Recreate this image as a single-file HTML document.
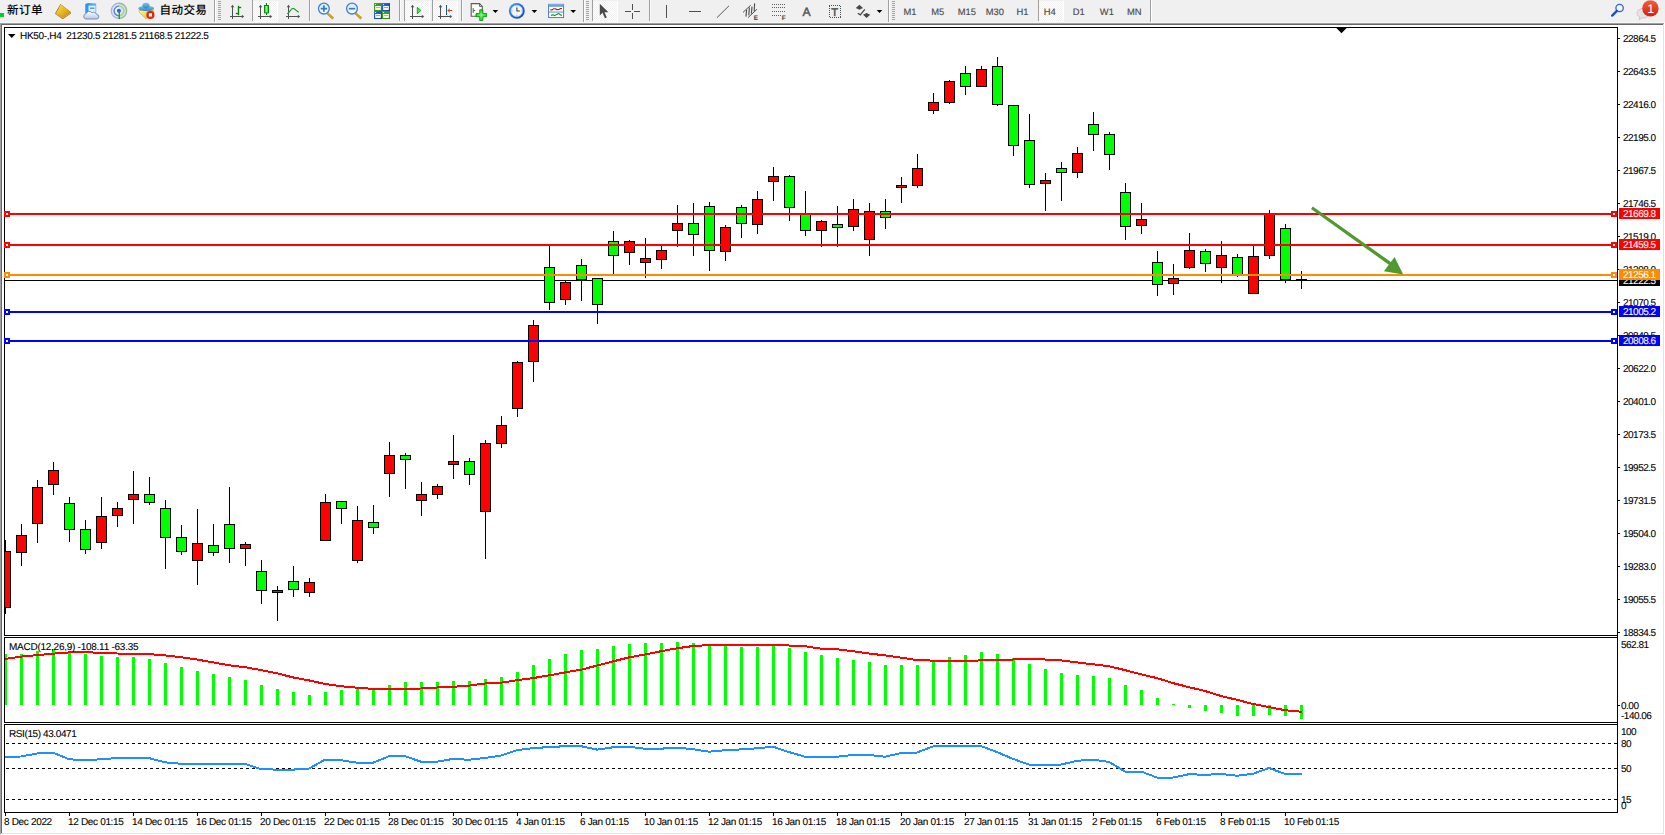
<!DOCTYPE html>
<html lang="zh-CN"><head><meta charset="utf-8"><title>HK50-,H4</title>
<style>
html,body{margin:0;padding:0;background:#fff;overflow:hidden}
body{width:1665px;height:835px;position:relative}
svg{position:absolute;left:0;top:0;display:block}
svg text{font-family:"Liberation Sans","Noto Sans CJK SC",sans-serif;white-space:pre}
svg text{text-rendering:geometricPrecision}
.ct text{stroke-width:0.1px;paint-order:stroke fill}
.cjk{font-family:"Liberation Sans","Noto Sans CJK SC",sans-serif}
</style></head><body>
<svg width="1665" height="835" viewBox="0 0 1665 835">
<g shape-rendering="crispEdges">
<rect x="0" y="0" width="1665" height="835" fill="#ffffff"/>
<rect x="0" y="0" width="1665" height="22" fill="#f0f0f0"/>
<rect x="0" y="22" width="1665" height="1" fill="#f7f7f7"/>
<rect x="0" y="23" width="1665" height="1" fill="#a0a0a0"/>
<rect x="1" y="24" width="1665" height="1" fill="#696969"/>
<rect x="0" y="23" width="1" height="811" fill="#a0a0a0"/>
<rect x="1" y="24" width="1" height="809" fill="#696969"/>
<rect x="1663" y="24" width="1" height="810" fill="#e3e3e3"/>
<rect x="1664" y="23" width="1" height="812" fill="#ffffff"/>
<rect x="1" y="833" width="1663" height="1" fill="#e3e3e3"/>
<rect x="0" y="834" width="1665" height="1" fill="#ffffff"/>
<rect x="4" y="27" width="1614" height="1" fill="#000000"/>
<rect x="4" y="27" width="1" height="786" fill="#000000"/>
<rect x="1617" y="27" width="1" height="786" fill="#000000"/>
<rect x="4" y="635" width="1614" height="1" fill="#000000"/>
<rect x="4" y="636" width="1" height="1" fill="#fff"/>
<rect x="4" y="637" width="1614" height="1" fill="#000000"/>
<rect x="4" y="722" width="1614" height="1" fill="#000000"/>
<rect x="4" y="723" width="1" height="1" fill="#fff"/>
<rect x="4" y="724" width="1614" height="1" fill="#000000"/>
<rect x="4" y="812" width="1614" height="1" fill="#000000"/>
</g>
<defs><clipPath id="cm"><rect x="5" y="28" width="1612" height="607"/></clipPath><clipPath id="c2"><rect x="5" y="638" width="1612" height="84"/></clipPath><clipPath id="c3"><rect x="5" y="725" width="1612" height="87"/></clipPath></defs>
<g shape-rendering="crispEdges" clip-path="url(#cm)">
<rect x="5" y="280" width="1612" height="1" fill="#000000"/>
<rect x="5" y="540" width="1" height="74" fill="#000000"/>
<rect x="0" y="551" width="11" height="57" fill="#000000"/>
<rect x="1" y="552" width="9" height="55" fill="#ff0000"/>
<rect x="21" y="524" width="1" height="42" fill="#000000"/>
<rect x="16" y="535" width="11" height="18" fill="#000000"/>
<rect x="17" y="536" width="9" height="16" fill="#ff0000"/>
<rect x="37" y="480" width="1" height="63" fill="#000000"/>
<rect x="32" y="487" width="11" height="37" fill="#000000"/>
<rect x="33" y="488" width="9" height="35" fill="#ff0000"/>
<rect x="53" y="462" width="1" height="33" fill="#000000"/>
<rect x="48" y="470" width="11" height="15" fill="#000000"/>
<rect x="49" y="471" width="9" height="13" fill="#ff0000"/>
<rect x="69" y="497" width="1" height="45" fill="#000000"/>
<rect x="64" y="503" width="11" height="27" fill="#000000"/>
<rect x="65" y="504" width="9" height="25" fill="#00ff00"/>
<rect x="85" y="520" width="1" height="34" fill="#000000"/>
<rect x="80" y="529" width="11" height="21" fill="#000000"/>
<rect x="81" y="530" width="9" height="19" fill="#00ff00"/>
<rect x="101" y="497" width="1" height="52" fill="#000000"/>
<rect x="96" y="516" width="11" height="27" fill="#000000"/>
<rect x="97" y="517" width="9" height="25" fill="#ff0000"/>
<rect x="117" y="502" width="1" height="25" fill="#000000"/>
<rect x="112" y="508" width="11" height="8" fill="#000000"/>
<rect x="113" y="509" width="9" height="6" fill="#ff0000"/>
<rect x="133" y="471" width="1" height="53" fill="#000000"/>
<rect x="128" y="494" width="11" height="6" fill="#000000"/>
<rect x="129" y="495" width="9" height="4" fill="#ff0000"/>
<rect x="149" y="477" width="1" height="28" fill="#000000"/>
<rect x="144" y="494" width="11" height="9" fill="#000000"/>
<rect x="145" y="495" width="9" height="7" fill="#00ff00"/>
<rect x="165" y="500" width="1" height="69" fill="#000000"/>
<rect x="160" y="508" width="11" height="30" fill="#000000"/>
<rect x="161" y="509" width="9" height="28" fill="#00ff00"/>
<rect x="181" y="525" width="1" height="30" fill="#000000"/>
<rect x="176" y="537" width="11" height="15" fill="#000000"/>
<rect x="177" y="538" width="9" height="13" fill="#00ff00"/>
<rect x="197" y="509" width="1" height="76" fill="#000000"/>
<rect x="192" y="543" width="11" height="18" fill="#000000"/>
<rect x="193" y="544" width="9" height="16" fill="#ff0000"/>
<rect x="213" y="524" width="1" height="32" fill="#000000"/>
<rect x="208" y="545" width="11" height="8" fill="#000000"/>
<rect x="209" y="546" width="9" height="6" fill="#00ff00"/>
<rect x="229" y="487" width="1" height="76" fill="#000000"/>
<rect x="224" y="524" width="11" height="25" fill="#000000"/>
<rect x="225" y="525" width="9" height="23" fill="#00ff00"/>
<rect x="245" y="542" width="1" height="24" fill="#000000"/>
<rect x="240" y="544" width="11" height="5" fill="#000000"/>
<rect x="241" y="545" width="9" height="3" fill="#ff0000"/>
<rect x="261" y="560" width="1" height="44" fill="#000000"/>
<rect x="256" y="571" width="11" height="20" fill="#000000"/>
<rect x="257" y="572" width="9" height="18" fill="#00ff00"/>
<rect x="277" y="586" width="1" height="35" fill="#000000"/>
<rect x="272" y="590" width="11" height="3" fill="#000000"/>
<rect x="273" y="591" width="9" height="1" fill="#ff0000"/>
<rect x="293" y="566" width="1" height="31" fill="#000000"/>
<rect x="288" y="581" width="11" height="9" fill="#000000"/>
<rect x="289" y="582" width="9" height="7" fill="#00ff00"/>
<rect x="309" y="578" width="1" height="19" fill="#000000"/>
<rect x="304" y="582" width="11" height="11" fill="#000000"/>
<rect x="305" y="583" width="9" height="9" fill="#ff0000"/>
<rect x="325" y="494" width="1" height="47" fill="#000000"/>
<rect x="320" y="502" width="11" height="39" fill="#000000"/>
<rect x="321" y="503" width="9" height="37" fill="#ff0000"/>
<rect x="341" y="501" width="1" height="23" fill="#000000"/>
<rect x="336" y="501" width="11" height="8" fill="#000000"/>
<rect x="337" y="502" width="9" height="6" fill="#00ff00"/>
<rect x="357" y="506" width="1" height="57" fill="#000000"/>
<rect x="352" y="520" width="11" height="41" fill="#000000"/>
<rect x="353" y="521" width="9" height="39" fill="#ff0000"/>
<rect x="373" y="505" width="1" height="29" fill="#000000"/>
<rect x="368" y="522" width="11" height="6" fill="#000000"/>
<rect x="369" y="523" width="9" height="4" fill="#00ff00"/>
<rect x="389" y="442" width="1" height="55" fill="#000000"/>
<rect x="384" y="455" width="11" height="19" fill="#000000"/>
<rect x="385" y="456" width="9" height="17" fill="#ff0000"/>
<rect x="405" y="453" width="1" height="36" fill="#000000"/>
<rect x="400" y="455" width="11" height="5" fill="#000000"/>
<rect x="401" y="456" width="9" height="3" fill="#00ff00"/>
<rect x="421" y="482" width="1" height="34" fill="#000000"/>
<rect x="416" y="494" width="11" height="7" fill="#000000"/>
<rect x="417" y="495" width="9" height="5" fill="#ff0000"/>
<rect x="437" y="484" width="1" height="15" fill="#000000"/>
<rect x="432" y="486" width="11" height="9" fill="#000000"/>
<rect x="433" y="487" width="9" height="7" fill="#ff0000"/>
<rect x="453" y="435" width="1" height="44" fill="#000000"/>
<rect x="448" y="461" width="11" height="4" fill="#000000"/>
<rect x="449" y="462" width="9" height="2" fill="#ff0000"/>
<rect x="469" y="458" width="1" height="27" fill="#000000"/>
<rect x="464" y="461" width="11" height="14" fill="#000000"/>
<rect x="465" y="462" width="9" height="12" fill="#00ff00"/>
<rect x="485" y="440" width="1" height="119" fill="#000000"/>
<rect x="480" y="443" width="11" height="69" fill="#000000"/>
<rect x="481" y="444" width="9" height="67" fill="#ff0000"/>
<rect x="501" y="416" width="1" height="32" fill="#000000"/>
<rect x="496" y="425" width="11" height="19" fill="#000000"/>
<rect x="497" y="426" width="9" height="17" fill="#ff0000"/>
<rect x="517" y="361" width="1" height="56" fill="#000000"/>
<rect x="512" y="362" width="11" height="47" fill="#000000"/>
<rect x="513" y="363" width="9" height="45" fill="#ff0000"/>
<rect x="533" y="320" width="1" height="62" fill="#000000"/>
<rect x="528" y="325" width="11" height="37" fill="#000000"/>
<rect x="529" y="326" width="9" height="35" fill="#ff0000"/>
<rect x="549" y="246" width="1" height="64" fill="#000000"/>
<rect x="544" y="267" width="11" height="36" fill="#000000"/>
<rect x="545" y="268" width="9" height="34" fill="#00ff00"/>
<rect x="565" y="281" width="1" height="24" fill="#000000"/>
<rect x="560" y="282" width="11" height="18" fill="#000000"/>
<rect x="561" y="283" width="9" height="16" fill="#ff0000"/>
<rect x="581" y="259" width="1" height="42" fill="#000000"/>
<rect x="576" y="265" width="11" height="15" fill="#000000"/>
<rect x="577" y="266" width="9" height="13" fill="#00ff00"/>
<rect x="597" y="278" width="1" height="46" fill="#000000"/>
<rect x="592" y="278" width="11" height="27" fill="#000000"/>
<rect x="593" y="279" width="9" height="25" fill="#00ff00"/>
<rect x="613" y="231" width="1" height="43" fill="#000000"/>
<rect x="608" y="241" width="11" height="15" fill="#000000"/>
<rect x="609" y="242" width="9" height="13" fill="#00ff00"/>
<rect x="629" y="240" width="1" height="25" fill="#000000"/>
<rect x="624" y="241" width="11" height="12" fill="#000000"/>
<rect x="625" y="242" width="9" height="10" fill="#ff0000"/>
<rect x="645" y="238" width="1" height="40" fill="#000000"/>
<rect x="640" y="258" width="11" height="5" fill="#000000"/>
<rect x="641" y="259" width="9" height="3" fill="#ff0000"/>
<rect x="661" y="246" width="1" height="23" fill="#000000"/>
<rect x="656" y="250" width="11" height="10" fill="#000000"/>
<rect x="657" y="251" width="9" height="8" fill="#ff0000"/>
<rect x="677" y="205" width="1" height="42" fill="#000000"/>
<rect x="672" y="223" width="11" height="8" fill="#000000"/>
<rect x="673" y="224" width="9" height="6" fill="#ff0000"/>
<rect x="693" y="203" width="1" height="53" fill="#000000"/>
<rect x="688" y="223" width="11" height="12" fill="#000000"/>
<rect x="689" y="224" width="9" height="10" fill="#00ff00"/>
<rect x="709" y="202" width="1" height="69" fill="#000000"/>
<rect x="704" y="206" width="11" height="45" fill="#000000"/>
<rect x="705" y="207" width="9" height="43" fill="#00ff00"/>
<rect x="725" y="225" width="1" height="36" fill="#000000"/>
<rect x="720" y="227" width="11" height="25" fill="#000000"/>
<rect x="721" y="228" width="9" height="23" fill="#ff0000"/>
<rect x="741" y="205" width="1" height="33" fill="#000000"/>
<rect x="736" y="207" width="11" height="17" fill="#000000"/>
<rect x="737" y="208" width="9" height="15" fill="#00ff00"/>
<rect x="757" y="191" width="1" height="43" fill="#000000"/>
<rect x="752" y="199" width="11" height="26" fill="#000000"/>
<rect x="753" y="200" width="9" height="24" fill="#ff0000"/>
<rect x="773" y="167" width="1" height="34" fill="#000000"/>
<rect x="768" y="176" width="11" height="6" fill="#000000"/>
<rect x="769" y="177" width="9" height="4" fill="#ff0000"/>
<rect x="789" y="175" width="1" height="46" fill="#000000"/>
<rect x="784" y="176" width="11" height="32" fill="#000000"/>
<rect x="785" y="177" width="9" height="30" fill="#00ff00"/>
<rect x="805" y="191" width="1" height="45" fill="#000000"/>
<rect x="800" y="214" width="11" height="17" fill="#000000"/>
<rect x="801" y="215" width="9" height="15" fill="#00ff00"/>
<rect x="821" y="220" width="1" height="27" fill="#000000"/>
<rect x="816" y="221" width="11" height="10" fill="#000000"/>
<rect x="817" y="222" width="9" height="8" fill="#ff0000"/>
<rect x="837" y="206" width="1" height="41" fill="#000000"/>
<rect x="832" y="224" width="11" height="4" fill="#000000"/>
<rect x="833" y="225" width="9" height="2" fill="#00ff00"/>
<rect x="853" y="199" width="1" height="32" fill="#000000"/>
<rect x="848" y="209" width="11" height="18" fill="#000000"/>
<rect x="849" y="210" width="9" height="16" fill="#ff0000"/>
<rect x="869" y="203" width="1" height="53" fill="#000000"/>
<rect x="864" y="211" width="11" height="29" fill="#000000"/>
<rect x="865" y="212" width="9" height="27" fill="#ff0000"/>
<rect x="885" y="199" width="1" height="30" fill="#000000"/>
<rect x="880" y="211" width="11" height="7" fill="#000000"/>
<rect x="881" y="212" width="9" height="5" fill="#00ff00"/>
<rect x="901" y="177" width="1" height="26" fill="#000000"/>
<rect x="896" y="185" width="11" height="3" fill="#000000"/>
<rect x="897" y="186" width="9" height="1" fill="#ff0000"/>
<rect x="917" y="154" width="1" height="34" fill="#000000"/>
<rect x="912" y="168" width="11" height="18" fill="#000000"/>
<rect x="913" y="169" width="9" height="16" fill="#ff0000"/>
<rect x="933" y="93" width="1" height="21" fill="#000000"/>
<rect x="928" y="102" width="11" height="9" fill="#000000"/>
<rect x="929" y="103" width="9" height="7" fill="#ff0000"/>
<rect x="949" y="80" width="1" height="24" fill="#000000"/>
<rect x="944" y="81" width="11" height="22" fill="#000000"/>
<rect x="945" y="82" width="9" height="20" fill="#ff0000"/>
<rect x="965" y="66" width="1" height="29" fill="#000000"/>
<rect x="960" y="73" width="11" height="14" fill="#000000"/>
<rect x="961" y="74" width="9" height="12" fill="#00ff00"/>
<rect x="981" y="66" width="1" height="21" fill="#000000"/>
<rect x="976" y="69" width="11" height="18" fill="#000000"/>
<rect x="977" y="70" width="9" height="16" fill="#ff0000"/>
<rect x="997" y="57" width="1" height="49" fill="#000000"/>
<rect x="992" y="66" width="11" height="39" fill="#000000"/>
<rect x="993" y="67" width="9" height="37" fill="#00ff00"/>
<rect x="1013" y="105" width="1" height="51" fill="#000000"/>
<rect x="1008" y="105" width="11" height="41" fill="#000000"/>
<rect x="1009" y="106" width="9" height="39" fill="#00ff00"/>
<rect x="1029" y="114" width="1" height="74" fill="#000000"/>
<rect x="1024" y="140" width="11" height="45" fill="#000000"/>
<rect x="1025" y="141" width="9" height="43" fill="#00ff00"/>
<rect x="1045" y="173" width="1" height="38" fill="#000000"/>
<rect x="1040" y="180" width="11" height="4" fill="#000000"/>
<rect x="1041" y="181" width="9" height="2" fill="#ff0000"/>
<rect x="1061" y="162" width="1" height="39" fill="#000000"/>
<rect x="1056" y="168" width="11" height="5" fill="#000000"/>
<rect x="1057" y="169" width="9" height="3" fill="#00ff00"/>
<rect x="1077" y="147" width="1" height="31" fill="#000000"/>
<rect x="1072" y="153" width="11" height="20" fill="#000000"/>
<rect x="1073" y="154" width="9" height="18" fill="#ff0000"/>
<rect x="1093" y="112" width="1" height="39" fill="#000000"/>
<rect x="1088" y="124" width="11" height="11" fill="#000000"/>
<rect x="1089" y="125" width="9" height="9" fill="#00ff00"/>
<rect x="1109" y="132" width="1" height="38" fill="#000000"/>
<rect x="1104" y="134" width="11" height="21" fill="#000000"/>
<rect x="1105" y="135" width="9" height="19" fill="#00ff00"/>
<rect x="1125" y="183" width="1" height="57" fill="#000000"/>
<rect x="1120" y="192" width="11" height="35" fill="#000000"/>
<rect x="1121" y="193" width="9" height="33" fill="#00ff00"/>
<rect x="1141" y="203" width="1" height="31" fill="#000000"/>
<rect x="1136" y="219" width="11" height="7" fill="#000000"/>
<rect x="1137" y="220" width="9" height="5" fill="#ff0000"/>
<rect x="1157" y="251" width="1" height="45" fill="#000000"/>
<rect x="1152" y="262" width="11" height="23" fill="#000000"/>
<rect x="1153" y="263" width="9" height="21" fill="#00ff00"/>
<rect x="1173" y="264" width="1" height="31" fill="#000000"/>
<rect x="1168" y="278" width="11" height="6" fill="#000000"/>
<rect x="1169" y="279" width="9" height="4" fill="#ff0000"/>
<rect x="1189" y="233" width="1" height="36" fill="#000000"/>
<rect x="1184" y="250" width="11" height="18" fill="#000000"/>
<rect x="1185" y="251" width="9" height="16" fill="#ff0000"/>
<rect x="1205" y="249" width="1" height="23" fill="#000000"/>
<rect x="1200" y="251" width="11" height="13" fill="#000000"/>
<rect x="1201" y="252" width="9" height="11" fill="#00ff00"/>
<rect x="1221" y="241" width="1" height="42" fill="#000000"/>
<rect x="1216" y="255" width="11" height="13" fill="#000000"/>
<rect x="1217" y="256" width="9" height="11" fill="#ff0000"/>
<rect x="1237" y="254" width="1" height="23" fill="#000000"/>
<rect x="1232" y="257" width="11" height="18" fill="#000000"/>
<rect x="1233" y="258" width="9" height="16" fill="#00ff00"/>
<rect x="1253" y="246" width="1" height="48" fill="#000000"/>
<rect x="1248" y="256" width="11" height="38" fill="#000000"/>
<rect x="1249" y="257" width="9" height="36" fill="#ff0000"/>
<rect x="1269" y="210" width="1" height="49" fill="#000000"/>
<rect x="1264" y="214" width="11" height="42" fill="#000000"/>
<rect x="1265" y="215" width="9" height="40" fill="#ff0000"/>
<rect x="1285" y="224" width="1" height="59" fill="#000000"/>
<rect x="1280" y="228" width="11" height="52" fill="#000000"/>
<rect x="1281" y="229" width="9" height="50" fill="#00ff00"/>
<rect x="1301" y="271" width="1" height="18" fill="#000000"/>
<rect x="1296" y="279" width="11" height="1" fill="#000000"/>
</g>
<g shape-rendering="crispEdges">
<rect x="5" y="213" width="1612" height="2" fill="#ff0000"/>
<rect x="4" y="211" width="6" height="6" fill="#ff0000"/>
<rect x="6" y="213" width="2" height="2" fill="#ffffff"/>
<rect x="1611" y="211" width="6" height="6" fill="#ff0000"/>
<rect x="1613" y="213" width="2" height="2" fill="#ffffff"/>
<rect x="5" y="244" width="1612" height="2" fill="#ff0000"/>
<rect x="4" y="242" width="6" height="6" fill="#ff0000"/>
<rect x="6" y="244" width="2" height="2" fill="#ffffff"/>
<rect x="1611" y="242" width="6" height="6" fill="#ff0000"/>
<rect x="1613" y="244" width="2" height="2" fill="#ffffff"/>
<rect x="5" y="311" width="1612" height="2" fill="#0000ff"/>
<rect x="4" y="309" width="6" height="6" fill="#0000ff"/>
<rect x="6" y="311" width="2" height="2" fill="#ffffff"/>
<rect x="1611" y="309" width="6" height="6" fill="#0000ff"/>
<rect x="1613" y="311" width="2" height="2" fill="#ffffff"/>
<rect x="5" y="340" width="1612" height="2" fill="#0000ff"/>
<rect x="4" y="338" width="6" height="6" fill="#0000ff"/>
<rect x="6" y="340" width="2" height="2" fill="#ffffff"/>
<rect x="1611" y="338" width="6" height="6" fill="#0000ff"/>
<rect x="1613" y="340" width="2" height="2" fill="#ffffff"/>
<rect x="5" y="274" width="1612" height="2" fill="#ff8c00"/>
<rect x="4" y="272" width="6" height="6" fill="#ff8c00"/>
<rect x="6" y="274" width="2" height="2" fill="#ffffff"/>
<rect x="1611" y="272" width="6" height="6" fill="#ff8c00"/>
<rect x="1613" y="274" width="2" height="2" fill="#ffffff"/>
</g>
<g fill="#4e9a2e" stroke="none">
<path d="M1311.0 208.9 L1312.8 206.5 L1391.2 262.3 L1389.2 265.0 Z"/>
<path d="M1403.2 274.4 L1394.6 257.0 L1383.9 271.3 Z"/>
</g>
<g shape-rendering="crispEdges">
<rect x="1618" y="38" width="2" height="1" fill="#000000"/>
<rect x="1618" y="71" width="2" height="1" fill="#000000"/>
<rect x="1618" y="104" width="2" height="1" fill="#000000"/>
<rect x="1618" y="137" width="2" height="1" fill="#000000"/>
<rect x="1618" y="170" width="2" height="1" fill="#000000"/>
<rect x="1618" y="203" width="2" height="1" fill="#000000"/>
<rect x="1618" y="236" width="2" height="1" fill="#000000"/>
<rect x="1618" y="269" width="2" height="1" fill="#000000"/>
<rect x="1618" y="302" width="2" height="1" fill="#000000"/>
<rect x="1618" y="335" width="2" height="1" fill="#000000"/>
<rect x="1618" y="368" width="2" height="1" fill="#000000"/>
<rect x="1618" y="401" width="2" height="1" fill="#000000"/>
<rect x="1618" y="434" width="2" height="1" fill="#000000"/>
<rect x="1618" y="467" width="2" height="1" fill="#000000"/>
<rect x="1618" y="500" width="2" height="1" fill="#000000"/>
<rect x="1618" y="533" width="2" height="1" fill="#000000"/>
<rect x="1618" y="566" width="2" height="1" fill="#000000"/>
<rect x="1618" y="599" width="2" height="1" fill="#000000"/>
<rect x="1618" y="632" width="2" height="1" fill="#000000"/>
</g>
<g class="ct"><text x="1623" y="42" fill="#000" stroke="#000" font-size="10" letter-spacing="-0.5">22864.5</text></g>
<g class="ct"><text x="1623" y="75" fill="#000" stroke="#000" font-size="10" letter-spacing="-0.5">22643.5</text></g>
<g class="ct"><text x="1623" y="108" fill="#000" stroke="#000" font-size="10" letter-spacing="-0.5">22416.0</text></g>
<g class="ct"><text x="1623" y="141" fill="#000" stroke="#000" font-size="10" letter-spacing="-0.5">22195.0</text></g>
<g class="ct"><text x="1623" y="174" fill="#000" stroke="#000" font-size="10" letter-spacing="-0.5">21967.5</text></g>
<g class="ct"><text x="1623" y="207" fill="#000" stroke="#000" font-size="10" letter-spacing="-0.5">21746.5</text></g>
<g class="ct"><text x="1623" y="240" fill="#000" stroke="#000" font-size="10" letter-spacing="-0.5">21519.0</text></g>
<g class="ct"><text x="1623" y="273" fill="#000" stroke="#000" font-size="10" letter-spacing="-0.5">21298.0</text></g>
<g class="ct"><text x="1623" y="306" fill="#000" stroke="#000" font-size="10" letter-spacing="-0.5">21070.5</text></g>
<g class="ct"><text x="1623" y="339" fill="#000" stroke="#000" font-size="10" letter-spacing="-0.5">20849.5</text></g>
<g class="ct"><text x="1623" y="372" fill="#000" stroke="#000" font-size="10" letter-spacing="-0.5">20622.0</text></g>
<g class="ct"><text x="1623" y="405" fill="#000" stroke="#000" font-size="10" letter-spacing="-0.5">20401.0</text></g>
<g class="ct"><text x="1623" y="438" fill="#000" stroke="#000" font-size="10" letter-spacing="-0.5">20173.5</text></g>
<g class="ct"><text x="1623" y="471" fill="#000" stroke="#000" font-size="10" letter-spacing="-0.5">19952.5</text></g>
<g class="ct"><text x="1623" y="504" fill="#000" stroke="#000" font-size="10" letter-spacing="-0.5">19731.5</text></g>
<g class="ct"><text x="1623" y="537" fill="#000" stroke="#000" font-size="10" letter-spacing="-0.5">19504.0</text></g>
<g class="ct"><text x="1623" y="570" fill="#000" stroke="#000" font-size="10" letter-spacing="-0.5">19283.0</text></g>
<g class="ct"><text x="1623" y="603" fill="#000" stroke="#000" font-size="10" letter-spacing="-0.5">19055.5</text></g>
<g class="ct"><text x="1623" y="636" fill="#000" stroke="#000" font-size="10" letter-spacing="-0.5">18834.5</text></g>
<g shape-rendering="crispEdges">
<rect x="1619" y="275" width="41" height="11" fill="#000000"/>
</g>
<g class="ct"><text x="1623" y="284" fill="#fff" stroke="#fff" font-size="10" letter-spacing="-0.5">21222.5</text></g>
<g shape-rendering="crispEdges">
<rect x="1619" y="208" width="41" height="11" fill="#ff0000"/>
</g>
<g class="ct"><text x="1623" y="217" fill="#fff" stroke="#fff" font-size="10" letter-spacing="-0.5">21669.8</text></g>
<g shape-rendering="crispEdges">
<rect x="1619" y="239" width="41" height="11" fill="#ff0000"/>
</g>
<g class="ct"><text x="1623" y="248" fill="#fff" stroke="#fff" font-size="10" letter-spacing="-0.5">21459.5</text></g>
<g shape-rendering="crispEdges">
<rect x="1619" y="306" width="41" height="11" fill="#0000ff"/>
</g>
<g class="ct"><text x="1623" y="315" fill="#fff" stroke="#fff" font-size="10" letter-spacing="-0.5">21005.2</text></g>
<g shape-rendering="crispEdges">
<rect x="1619" y="335" width="41" height="11" fill="#0000ff"/>
</g>
<g class="ct"><text x="1623" y="344" fill="#fff" stroke="#fff" font-size="10" letter-spacing="-0.5">20808.6</text></g>
<g shape-rendering="crispEdges">
<rect x="1619" y="269" width="41" height="11" fill="#ff8c00"/>
</g>
<g class="ct"><text x="1623" y="278" fill="#fff" stroke="#fff" font-size="10" letter-spacing="-0.5">21256.1</text></g>
<path d="M1336.4 28 L1346.6 28 L1341.5 33.2 Z" fill="#000"/>
<path d="M8 34 L15.5 34 L11.75 38 Z" fill="#000"/>
<g class="ct"><text x="20" y="39" fill="#000" stroke="#000" font-size="10" letter-spacing="-0.5" textLength="188.4" lengthAdjust="spacing">HK50-,H4  21230.5 21281.5 21168.5 21222.5</text></g>
<g shape-rendering="crispEdges" clip-path="url(#c2)">
<rect x="4" y="654" width="3" height="51" fill="#00ff00"/>
<rect x="20" y="654" width="3" height="51" fill="#00ff00"/>
<rect x="36" y="651" width="3" height="54" fill="#00ff00"/>
<rect x="52" y="649" width="3" height="56" fill="#00ff00"/>
<rect x="68" y="651" width="3" height="54" fill="#00ff00"/>
<rect x="84" y="654" width="3" height="51" fill="#00ff00"/>
<rect x="100" y="656" width="3" height="49" fill="#00ff00"/>
<rect x="116" y="657" width="3" height="48" fill="#00ff00"/>
<rect x="132" y="657" width="3" height="48" fill="#00ff00"/>
<rect x="148" y="659" width="3" height="46" fill="#00ff00"/>
<rect x="164" y="663" width="3" height="42" fill="#00ff00"/>
<rect x="180" y="667" width="3" height="38" fill="#00ff00"/>
<rect x="196" y="671" width="3" height="34" fill="#00ff00"/>
<rect x="212" y="674" width="3" height="31" fill="#00ff00"/>
<rect x="228" y="677" width="3" height="28" fill="#00ff00"/>
<rect x="244" y="680" width="3" height="25" fill="#00ff00"/>
<rect x="260" y="685" width="3" height="20" fill="#00ff00"/>
<rect x="276" y="689" width="3" height="16" fill="#00ff00"/>
<rect x="292" y="692" width="3" height="13" fill="#00ff00"/>
<rect x="308" y="695" width="3" height="10" fill="#00ff00"/>
<rect x="324" y="692" width="3" height="13" fill="#00ff00"/>
<rect x="340" y="690" width="3" height="15" fill="#00ff00"/>
<rect x="356" y="689" width="3" height="16" fill="#00ff00"/>
<rect x="372" y="689" width="3" height="16" fill="#00ff00"/>
<rect x="388" y="685" width="3" height="20" fill="#00ff00"/>
<rect x="404" y="682" width="3" height="23" fill="#00ff00"/>
<rect x="420" y="682" width="3" height="23" fill="#00ff00"/>
<rect x="436" y="682" width="3" height="23" fill="#00ff00"/>
<rect x="452" y="681" width="3" height="24" fill="#00ff00"/>
<rect x="468" y="681" width="3" height="24" fill="#00ff00"/>
<rect x="484" y="679" width="3" height="26" fill="#00ff00"/>
<rect x="500" y="677" width="3" height="28" fill="#00ff00"/>
<rect x="516" y="672" width="3" height="33" fill="#00ff00"/>
<rect x="532" y="665" width="3" height="40" fill="#00ff00"/>
<rect x="548" y="659" width="3" height="46" fill="#00ff00"/>
<rect x="564" y="654" width="3" height="51" fill="#00ff00"/>
<rect x="580" y="650" width="3" height="55" fill="#00ff00"/>
<rect x="596" y="649" width="3" height="56" fill="#00ff00"/>
<rect x="612" y="646" width="3" height="59" fill="#00ff00"/>
<rect x="628" y="644" width="3" height="61" fill="#00ff00"/>
<rect x="644" y="643" width="3" height="62" fill="#00ff00"/>
<rect x="660" y="643" width="3" height="62" fill="#00ff00"/>
<rect x="676" y="642" width="3" height="63" fill="#00ff00"/>
<rect x="692" y="643" width="3" height="62" fill="#00ff00"/>
<rect x="708" y="645" width="3" height="60" fill="#00ff00"/>
<rect x="724" y="645" width="3" height="60" fill="#00ff00"/>
<rect x="740" y="647" width="3" height="58" fill="#00ff00"/>
<rect x="756" y="647" width="3" height="58" fill="#00ff00"/>
<rect x="772" y="645" width="3" height="60" fill="#00ff00"/>
<rect x="788" y="648" width="3" height="57" fill="#00ff00"/>
<rect x="804" y="652" width="3" height="53" fill="#00ff00"/>
<rect x="820" y="655" width="3" height="50" fill="#00ff00"/>
<rect x="836" y="658" width="3" height="47" fill="#00ff00"/>
<rect x="852" y="660" width="3" height="45" fill="#00ff00"/>
<rect x="868" y="662" width="3" height="43" fill="#00ff00"/>
<rect x="884" y="665" width="3" height="40" fill="#00ff00"/>
<rect x="900" y="665" width="3" height="40" fill="#00ff00"/>
<rect x="916" y="665" width="3" height="40" fill="#00ff00"/>
<rect x="932" y="661" width="3" height="44" fill="#00ff00"/>
<rect x="948" y="657" width="3" height="48" fill="#00ff00"/>
<rect x="964" y="655" width="3" height="50" fill="#00ff00"/>
<rect x="980" y="652" width="3" height="53" fill="#00ff00"/>
<rect x="996" y="654" width="3" height="51" fill="#00ff00"/>
<rect x="1012" y="658" width="3" height="47" fill="#00ff00"/>
<rect x="1028" y="664" width="3" height="41" fill="#00ff00"/>
<rect x="1044" y="669" width="3" height="36" fill="#00ff00"/>
<rect x="1060" y="673" width="3" height="32" fill="#00ff00"/>
<rect x="1076" y="675" width="3" height="30" fill="#00ff00"/>
<rect x="1092" y="676" width="3" height="29" fill="#00ff00"/>
<rect x="1108" y="678" width="3" height="27" fill="#00ff00"/>
<rect x="1124" y="685" width="3" height="20" fill="#00ff00"/>
<rect x="1140" y="690" width="3" height="15" fill="#00ff00"/>
<rect x="1156" y="698" width="3" height="7" fill="#00ff00"/>
<rect x="1172" y="704" width="3" height="1" fill="#00ff00"/>
<rect x="1188" y="705" width="3" height="3" fill="#00ff00"/>
<rect x="1204" y="705" width="3" height="6" fill="#00ff00"/>
<rect x="1220" y="705" width="3" height="8" fill="#00ff00"/>
<rect x="1236" y="705" width="3" height="11" fill="#00ff00"/>
<rect x="1252" y="705" width="3" height="11" fill="#00ff00"/>
<rect x="1268" y="705" width="3" height="10" fill="#00ff00"/>
<rect x="1284" y="705" width="3" height="11" fill="#00ff00"/>
<rect x="1300" y="705" width="3" height="14" fill="#00ff00"/>
<polyline points="5,658.9 21,656.6 37,655.1 53,653.7 69,652.4 85,652.2 101,652.8 117,653.5 133,653.7 149,654.1 165,655.4 181,657.2 197,659.5 213,662.4 229,665.2 245,667.2 261,670.1 277,673.3 293,677.4 309,680.4 325,683.9 341,686.2 357,687.7 373,688.9 389,688.9 405,688.9 421,688.5 437,687.5 453,686.8 469,685.6 485,683.5 501,682.7 517,680.2 533,678.1 549,675.4 565,672.4 581,669.7 597,665.6 613,661.4 629,657.4 645,654.5 661,651.2 677,648.3 693,646.0 709,645.1 725,645.1 741,645.1 757,645.1 773,645.1 789,645.5 805,646.2 821,648.7 837,649.3 853,651.2 869,653.5 885,655.4 901,657.6 917,660.1 933,660.6 949,661.0 965,661.0 981,660.4 997,660.1 1013,659.5 1029,659.1 1045,659.5 1061,660.4 1077,662.4 1093,664.3 1109,666.2 1125,670.1 1141,674.3 1157,678.1 1173,683.1 1189,687.2 1205,691.0 1221,696.0 1237,699.8 1253,704.0 1269,707.1 1285,710.2 1301,711.7 1302,711.7" fill="none" stroke="#ff0000" stroke-width="2" stroke-linejoin="round"/>
</g>
<g class="ct"><text x="9" y="650" fill="#000" stroke="#000" font-size="10" letter-spacing="-0.5" textLength="129" lengthAdjust="spacing">MACD(12,26,9) -108.11 -63.35</text></g>
<g class="ct"><text x="1621" y="648" fill="#000" stroke="#000" font-size="10" letter-spacing="-0.5">562.81</text></g>
<g class="ct"><text x="1621" y="709" fill="#000" stroke="#000" font-size="10" letter-spacing="-0.5">0.00</text></g>
<g class="ct"><text x="1621" y="719" fill="#000" stroke="#000" font-size="10" letter-spacing="-0.5">-140.06</text></g>
<g shape-rendering="crispEdges">
<rect x="1618" y="705" width="2" height="1" fill="#000000"/>
</g>
<g shape-rendering="crispEdges" clip-path="url(#c3)">
<line x1="6" y1="743.5" x2="1617" y2="743.5" stroke="#000" stroke-width="1" stroke-dasharray="3 3"/>
<line x1="6" y1="768.5" x2="1617" y2="768.5" stroke="#000" stroke-width="1" stroke-dasharray="3 3"/>
<line x1="6" y1="799.5" x2="1617" y2="799.5" stroke="#000" stroke-width="1" stroke-dasharray="3 3"/>
<polyline points="5,756.9 21,756.5 37,753.5 53,752.7 69,759.2 85,760.4 101,759.2 117,758.1 133,757.9 149,758.1 165,762.3 181,763.8 197,763.8 213,763.8 229,763.8 245,763.8 261,769.2 277,769.6 293,769.6 309,768.6 325,759.6 341,760.2 357,762.7 373,762.7 389,756.2 405,756.2 421,761.7 437,761.7 453,758.9 469,759.8 485,757.9 501,755.6 517,750.2 533,748.1 549,747.1 565,746.2 581,746.2 597,749.6 613,747.3 629,746.7 645,748.7 661,748.7 677,747.5 693,749.2 709,751.7 725,750.2 741,749.4 757,748.3 773,746.7 789,752.1 805,756.7 821,756.7 837,756.7 853,755.0 869,755.0 885,756.7 901,753.1 917,752.5 933,746.4 949,746.0 965,746.0 981,746.0 997,752.1 1013,758.9 1029,764.6 1045,764.6 1061,764.6 1077,760.8 1093,759.6 1109,761.9 1125,771.5 1141,771.5 1157,777.5 1173,777.5 1189,774.2 1205,774.8 1221,774.0 1237,775.7 1253,773.8 1269,768.0 1285,774.0 1301,774.0 1302,774.0" fill="none" stroke="#1e90ff" stroke-width="2" stroke-linejoin="round"/>
</g>
<g class="ct"><text x="9" y="737" fill="#000" stroke="#000" font-size="10" letter-spacing="-0.4">RSI(15) 43.0471</text></g>
<g class="ct"><text x="1621" y="735" fill="#000" stroke="#000" font-size="10" letter-spacing="-0.5">100</text></g>
<g class="ct"><text x="1621" y="747" fill="#000" stroke="#000" font-size="10" letter-spacing="-0.5">80</text></g>
<g class="ct"><text x="1621" y="772" fill="#000" stroke="#000" font-size="10" letter-spacing="-0.5">50</text></g>
<g class="ct"><text x="1621" y="803" fill="#000" stroke="#000" font-size="10" letter-spacing="-0.5">15</text></g>
<g class="ct"><text x="1621" y="809" fill="#000" stroke="#000" font-size="10" letter-spacing="-0.5">0</text></g>
<g shape-rendering="crispEdges">
<rect x="5" y="813" width="1" height="3" fill="#000000"/>
<rect x="69" y="813" width="1" height="3" fill="#000000"/>
<rect x="133" y="813" width="1" height="3" fill="#000000"/>
<rect x="197" y="813" width="1" height="3" fill="#000000"/>
<rect x="261" y="813" width="1" height="3" fill="#000000"/>
<rect x="325" y="813" width="1" height="3" fill="#000000"/>
<rect x="389" y="813" width="1" height="3" fill="#000000"/>
<rect x="453" y="813" width="1" height="3" fill="#000000"/>
<rect x="517" y="813" width="1" height="3" fill="#000000"/>
<rect x="581" y="813" width="1" height="3" fill="#000000"/>
<rect x="645" y="813" width="1" height="3" fill="#000000"/>
<rect x="709" y="813" width="1" height="3" fill="#000000"/>
<rect x="773" y="813" width="1" height="3" fill="#000000"/>
<rect x="837" y="813" width="1" height="3" fill="#000000"/>
<rect x="901" y="813" width="1" height="3" fill="#000000"/>
<rect x="965" y="813" width="1" height="3" fill="#000000"/>
<rect x="1029" y="813" width="1" height="3" fill="#000000"/>
<rect x="1093" y="813" width="1" height="3" fill="#000000"/>
<rect x="1157" y="813" width="1" height="3" fill="#000000"/>
<rect x="1221" y="813" width="1" height="3" fill="#000000"/>
<rect x="1285" y="813" width="1" height="3" fill="#000000"/>
</g>
<g class="ct"><text x="4" y="825" fill="#000" stroke="#000" font-size="10" letter-spacing="-0.33">8 Dec 2022</text></g>
<g class="ct"><text x="68" y="825" fill="#000" stroke="#000" font-size="10" letter-spacing="-0.33">12 Dec 01:15</text></g>
<g class="ct"><text x="132" y="825" fill="#000" stroke="#000" font-size="10" letter-spacing="-0.33">14 Dec 01:15</text></g>
<g class="ct"><text x="196" y="825" fill="#000" stroke="#000" font-size="10" letter-spacing="-0.33">16 Dec 01:15</text></g>
<g class="ct"><text x="260" y="825" fill="#000" stroke="#000" font-size="10" letter-spacing="-0.33">20 Dec 01:15</text></g>
<g class="ct"><text x="324" y="825" fill="#000" stroke="#000" font-size="10" letter-spacing="-0.33">22 Dec 01:15</text></g>
<g class="ct"><text x="388" y="825" fill="#000" stroke="#000" font-size="10" letter-spacing="-0.33">28 Dec 01:15</text></g>
<g class="ct"><text x="452" y="825" fill="#000" stroke="#000" font-size="10" letter-spacing="-0.33">30 Dec 01:15</text></g>
<g class="ct"><text x="516" y="825" fill="#000" stroke="#000" font-size="10" letter-spacing="-0.33">4 Jan 01:15</text></g>
<g class="ct"><text x="580" y="825" fill="#000" stroke="#000" font-size="10" letter-spacing="-0.33">6 Jan 01:15</text></g>
<g class="ct"><text x="644" y="825" fill="#000" stroke="#000" font-size="10" letter-spacing="-0.33">10 Jan 01:15</text></g>
<g class="ct"><text x="708" y="825" fill="#000" stroke="#000" font-size="10" letter-spacing="-0.33">12 Jan 01:15</text></g>
<g class="ct"><text x="772" y="825" fill="#000" stroke="#000" font-size="10" letter-spacing="-0.33">16 Jan 01:15</text></g>
<g class="ct"><text x="836" y="825" fill="#000" stroke="#000" font-size="10" letter-spacing="-0.33">18 Jan 01:15</text></g>
<g class="ct"><text x="900" y="825" fill="#000" stroke="#000" font-size="10" letter-spacing="-0.33">20 Jan 01:15</text></g>
<g class="ct"><text x="964" y="825" fill="#000" stroke="#000" font-size="10" letter-spacing="-0.33">27 Jan 01:15</text></g>
<g class="ct"><text x="1028" y="825" fill="#000" stroke="#000" font-size="10" letter-spacing="-0.33">31 Jan 01:15</text></g>
<g class="ct"><text x="1092" y="825" fill="#000" stroke="#000" font-size="10" letter-spacing="-0.33">2 Feb 01:15</text></g>
<g class="ct"><text x="1156" y="825" fill="#000" stroke="#000" font-size="10" letter-spacing="-0.33">6 Feb 01:15</text></g>
<g class="ct"><text x="1220" y="825" fill="#000" stroke="#000" font-size="10" letter-spacing="-0.33">8 Feb 01:15</text></g>
<g class="ct"><text x="1284" y="825" fill="#000" stroke="#000" font-size="10" letter-spacing="-0.33">10 Feb 01:15</text></g>
<defs>
<pattern id="chk" width="2" height="2" patternUnits="userSpaceOnUse"><rect width="2" height="2" fill="#ffffff"/><rect width="1" height="1" fill="#f0f0f0"/><rect x="1" y="1" width="1" height="1" fill="#f0f0f0"/></pattern>
<linearGradient id="gold" x1="0" y1="0" x2="1" y2="1"><stop offset="0" stop-color="#fbe04a"/><stop offset="0.5" stop-color="#e8b820"/><stop offset="1" stop-color="#b9811a"/></linearGradient>
<linearGradient id="blu" x1="0" y1="0" x2="1" y2="0"><stop offset="0" stop-color="#1e90ff"/><stop offset="1" stop-color="#5ab4ff"/></linearGradient>
<linearGradient id="cld" x1="0" y1="0" x2="0" y2="1"><stop offset="0" stop-color="#ffffff"/><stop offset="1" stop-color="#b8c8e4"/></linearGradient>
<linearGradient id="lens" x1="0" y1="0" x2="0" y2="1"><stop offset="0" stop-color="#d4ecff"/><stop offset="1" stop-color="#f4fbff"/></linearGradient>
<linearGradient id="cnd" x1="0" y1="0" x2="1" y2="0"><stop offset="0" stop-color="#18d838"/><stop offset="0.5" stop-color="#70ff80"/><stop offset="1" stop-color="#10c830"/></linearGradient>
<radialGradient id="clk" cx="0.5" cy="0.5" r="0.5"><stop offset="0" stop-color="#ffffff"/><stop offset="0.62" stop-color="#e8f0fa"/><stop offset="0.7" stop-color="#2a6fd8"/><stop offset="1" stop-color="#1450b4"/></radialGradient>
<linearGradient id="redb" x1="0" y1="0" x2="0" y2="1"><stop offset="0" stop-color="#f0603a"/><stop offset="1" stop-color="#d42010"/></linearGradient>
<linearGradient id="hat" x1="0" y1="0" x2="0" y2="1"><stop offset="0" stop-color="#7cc4f0"/><stop offset="1" stop-color="#2f86c8"/></linearGradient>
<linearGradient id="yel" x1="0" y1="0" x2="1" y2="1"><stop offset="0" stop-color="#fff6a0"/><stop offset="1" stop-color="#e6b800"/></linearGradient>
<linearGradient id="grn" x1="0" y1="0" x2="1" y2="1"><stop offset="0" stop-color="#48a820"/><stop offset="1" stop-color="#2f8c10"/></linearGradient>
<linearGradient id="bl2" x1="0" y1="0" x2="1" y2="1"><stop offset="0" stop-color="#3a6ee0"/><stop offset="1" stop-color="#1038b0"/></linearGradient>
<radialGradient id="plusg" cx="0.5" cy="0.5" r="0.6"><stop offset="0" stop-color="#7cff7c"/><stop offset="1" stop-color="#10c010"/></radialGradient>
<linearGradient id="clkr" x1="0" y1="0" x2="1" y2="1"><stop offset="0" stop-color="#48a4f8"/><stop offset="0.5" stop-color="#1f6fe0"/><stop offset="1" stop-color="#0c3f9c"/></linearGradient>
<linearGradient id="tplt" x1="0" y1="0" x2="0" y2="1"><stop offset="0" stop-color="#8cc0f4"/><stop offset="1" stop-color="#3c7fd4"/></linearGradient>
</defs>
<g shape-rendering="crispEdges">
<rect x="0" y="13" width="4" height="4" fill="#00d020"/>
<rect x="214" y="0" width="1" height="22" fill="#a0a0a0"/>
<rect x="215" y="0" width="1" height="22" fill="#ffffff"/>
<rect x="218" y="1" width="3" height="1" fill="#a4a4a4"/>
<rect x="218" y="3" width="3" height="1" fill="#a4a4a4"/>
<rect x="218" y="5" width="3" height="1" fill="#a4a4a4"/>
<rect x="218" y="7" width="3" height="1" fill="#a4a4a4"/>
<rect x="218" y="9" width="3" height="1" fill="#a4a4a4"/>
<rect x="218" y="11" width="3" height="1" fill="#a4a4a4"/>
<rect x="218" y="13" width="3" height="1" fill="#a4a4a4"/>
<rect x="218" y="15" width="3" height="1" fill="#a4a4a4"/>
<rect x="218" y="17" width="3" height="1" fill="#a4a4a4"/>
<rect x="218" y="19" width="3" height="1" fill="#a4a4a4"/>
<rect x="253" y="1" width="24" height="20" fill="url(#chk)"/>
<rect x="252" y="0" width="1" height="21" fill="#a0a0a0"/>
<rect x="253" y="21" width="25" height="1" fill="#ffffff"/>
<rect x="277" y="1" width="1" height="20" fill="#ffffff"/>
<rect x="309" y="0" width="1" height="21" fill="#a0a0a0"/>
<rect x="310" y="0" width="1" height="21" fill="#fafafa"/>
<rect x="399" y="0" width="1" height="21" fill="#a0a0a0"/>
<rect x="400" y="0" width="1" height="21" fill="#fafafa"/>
<rect x="405" y="1" width="24" height="20" fill="url(#chk)"/>
<rect x="404" y="0" width="1" height="21" fill="#a0a0a0"/>
<rect x="405" y="21" width="25" height="1" fill="#ffffff"/>
<rect x="429" y="1" width="1" height="20" fill="#ffffff"/>
<rect x="433" y="1" width="24" height="20" fill="url(#chk)"/>
<rect x="432" y="0" width="1" height="21" fill="#a0a0a0"/>
<rect x="433" y="21" width="25" height="1" fill="#ffffff"/>
<rect x="457" y="1" width="1" height="20" fill="#ffffff"/>
<rect x="461" y="0" width="1" height="21" fill="#a0a0a0"/>
<rect x="462" y="0" width="1" height="21" fill="#fafafa"/>
<rect x="583" y="0" width="1" height="22" fill="#a0a0a0"/>
<rect x="584" y="0" width="1" height="22" fill="#ffffff"/>
<rect x="586" y="1" width="3" height="1" fill="#a4a4a4"/>
<rect x="586" y="3" width="3" height="1" fill="#a4a4a4"/>
<rect x="586" y="5" width="3" height="1" fill="#a4a4a4"/>
<rect x="586" y="7" width="3" height="1" fill="#a4a4a4"/>
<rect x="586" y="9" width="3" height="1" fill="#a4a4a4"/>
<rect x="586" y="11" width="3" height="1" fill="#a4a4a4"/>
<rect x="586" y="13" width="3" height="1" fill="#a4a4a4"/>
<rect x="586" y="15" width="3" height="1" fill="#a4a4a4"/>
<rect x="586" y="17" width="3" height="1" fill="#a4a4a4"/>
<rect x="586" y="19" width="3" height="1" fill="#a4a4a4"/>
<rect x="593" y="1" width="24" height="20" fill="url(#chk)"/>
<rect x="592" y="0" width="1" height="21" fill="#a0a0a0"/>
<rect x="593" y="21" width="25" height="1" fill="#ffffff"/>
<rect x="617" y="1" width="1" height="20" fill="#ffffff"/>
<rect x="649" y="0" width="1" height="21" fill="#a0a0a0"/>
<rect x="650" y="0" width="1" height="21" fill="#fafafa"/>
<rect x="888" y="0" width="1" height="22" fill="#a0a0a0"/>
<rect x="889" y="0" width="1" height="22" fill="#ffffff"/>
<rect x="892" y="1" width="3" height="1" fill="#a4a4a4"/>
<rect x="892" y="3" width="3" height="1" fill="#a4a4a4"/>
<rect x="892" y="5" width="3" height="1" fill="#a4a4a4"/>
<rect x="892" y="7" width="3" height="1" fill="#a4a4a4"/>
<rect x="892" y="9" width="3" height="1" fill="#a4a4a4"/>
<rect x="892" y="11" width="3" height="1" fill="#a4a4a4"/>
<rect x="892" y="13" width="3" height="1" fill="#a4a4a4"/>
<rect x="892" y="15" width="3" height="1" fill="#a4a4a4"/>
<rect x="892" y="17" width="3" height="1" fill="#a4a4a4"/>
<rect x="892" y="19" width="3" height="1" fill="#a4a4a4"/>
<rect x="1039" y="1" width="24" height="20" fill="url(#chk)"/>
<rect x="1038" y="0" width="1" height="21" fill="#a0a0a0"/>
<rect x="1039" y="21" width="25" height="1" fill="#ffffff"/>
<rect x="1063" y="1" width="1" height="20" fill="#ffffff"/>
<rect x="1150" y="0" width="1" height="22" fill="#a0a0a0"/>
<rect x="1151" y="0" width="1" height="22" fill="#ffffff"/>
</g>
<text class="cjk" x="7" y="14" font-size="11.6" letter-spacing="0.35" font-weight="500" fill="#000">新订单</text>
<text class="cjk" x="159.5" y="14" font-size="11.6" letter-spacing="0.35" font-weight="500" fill="#000">自动交易</text>
<text x="903.5" y="15" font-size="9.4" fill="#4c4c4c" stroke="#4c4c4c" stroke-width="0.15">M1</text>
<text x="931.2" y="15" font-size="9.4" fill="#4c4c4c" stroke="#4c4c4c" stroke-width="0.15">M5</text>
<text x="957.7" y="15" font-size="9.4" fill="#4c4c4c" stroke="#4c4c4c" stroke-width="0.15">M15</text>
<text x="985.7" y="15" font-size="9.4" fill="#4c4c4c" stroke="#4c4c4c" stroke-width="0.15">M30</text>
<text x="1016.6" y="15" font-size="9.4" fill="#4c4c4c" stroke="#4c4c4c" stroke-width="0.15">H1</text>
<text x="1043.7" y="15" font-size="9.4" fill="#4c4c4c" stroke="#4c4c4c" stroke-width="0.15">H4</text>
<text x="1072.7" y="15" font-size="9.4" fill="#4c4c4c" stroke="#4c4c4c" stroke-width="0.15">D1</text>
<text x="1099.8" y="15" font-size="9.4" fill="#4c4c4c" stroke="#4c4c4c" stroke-width="0.15">W1</text>
<text x="1127" y="15" font-size="9.4" fill="#4c4c4c" stroke="#4c4c4c" stroke-width="0.15">MN</text>
<path d="M60.4 4.1 L70.9 12 L71 13.4 L63.2 19.1 L62.4 19 L55.3 14 Q55 13.2 55.6 12.4 Z" fill="#a87014"/>
<path d="M60.6 4.5 L70.5 12 L62.9 17.4 L56 13 Q58.6 9.5 60.6 4.5 Z" fill="url(#gold)"/>
<path d="M56 13.6 L62.9 18 L70.6 12.6" fill="none" stroke="#f6df8a" stroke-width="0.6"/>
<path d="M85.3 4 L88 3 L96.2 3.6 L96.2 13.5 L85.3 13.5 Z" fill="url(#blu)"/>
<rect x="88.5" y="5.6" width="7" height="7.5" fill="#dff0ff"/>
<rect x="90" y="7.6" width="4.5" height="1.2" fill="#3a8ae0"/>
<path d="M85.8 19 a2.7 2.7 0 0 1 0.2 -5.3 a3.4 3.4 0 0 1 6 -0.9 a3 3 0 0 1 4.6 1.6 a2.3 2.3 0 0 1 -0.2 4.6 Z" fill="url(#cld)" stroke="#5878b0" stroke-width="0.8"/>
<path d="M119 2.7 A8.2 8.2 0 0 1 119 19.1 Z" fill="#cfe6cf" opacity="0.75"/>
<g fill="none">
<path d="M119 3.3 A7.6 7.6 0 0 0 119 18.5" stroke="#9db6e6" stroke-width="1.4"/>
<path d="M119 6 A4.9 4.9 0 0 0 119 15.8" stroke="#5a84dc" stroke-width="1.5"/>
<path d="M119 3.3 A7.6 7.6 0 0 1 119 18.5" stroke="#8fbf96" stroke-width="1.4"/>
<path d="M119 6 A4.9 4.9 0 0 1 119 15.8" stroke="#a9c9b4" stroke-width="1.5"/>
</g>
<circle cx="118.9" cy="10.8" r="2" fill="#2f62d0"/>
<rect x="118.6" y="11.2" width="1.4" height="7.8" fill="#18a818"/>
<path d="M139 10.5 L153.6 10.5 L153 13 L146 19 L139.5 12.5 Z" fill="url(#yel)" stroke="#d0a000" stroke-width="0.5"/>
<ellipse cx="146.2" cy="8.4" rx="7.9" ry="2.6" fill="url(#hat)"/>
<ellipse cx="146" cy="5.6" rx="3.6" ry="2.8" fill="url(#hat)"/>
<circle cx="150.4" cy="14.9" r="4.1" fill="#e02810"/>
<rect x="148.8" y="13.3" width="3.2" height="3.2" fill="#ffffff"/>
<g fill="#505050" shape-rendering="crispEdges">
<rect x="232" y="6" width="1" height="13"/>
<rect x="230" y="16" width="13" height="1"/>
</g>
<path d="M232.5 4.8 L234.3 7.2 L230.7 7.2 Z" fill="#505050"/>
<path d="M244.2 16.5 L241.8 14.7 L241.8 18.3 Z" fill="#505050"/>
<g fill="#0a820a" stroke="#0a820a" stroke-width="0.35" shape-rendering="auto"><rect x="238" y="6" width="1" height="9"/><rect x="239" y="7" width="2" height="1"/><rect x="236" y="13" width="2" height="1"/></g>
<g fill="#505050" shape-rendering="crispEdges">
<rect x="260" y="6" width="1" height="13"/>
<rect x="258" y="16" width="13" height="1"/>
</g>
<path d="M260.5 4.8 L262.3 7.2 L258.7 7.2 Z" fill="#505050"/>
<path d="M272.2 16.5 L269.8 14.7 L269.8 18.3 Z" fill="#505050"/>
<rect x="266" y="3" width="1" height="12" fill="#0a8a0a" shape-rendering="crispEdges"/>
<rect x="264.5" y="5.5" width="4" height="7.4" fill="url(#cnd)" stroke="#0a8a0a" stroke-width="1"/>
<g fill="#505050" shape-rendering="crispEdges">
<rect x="288" y="6" width="1" height="13"/>
<rect x="286" y="16" width="13" height="1"/>
</g>
<path d="M288.5 4.8 L290.3 7.2 L286.7 7.2 Z" fill="#505050"/>
<path d="M300.2 16.5 L297.8 14.7 L297.8 18.3 Z" fill="#505050"/>
<path d="M287.2 13.8 C289.5 12.5 291 8.2 293.2 8.3 C295 8.4 296.5 11.5 298.8 12.3" fill="none" stroke="#2a9a2a" stroke-width="1.2"/>
<path d="M327.5 12.299999999999999 L333.7 17.6 L332.29999999999995 19.2 L326.29999999999995 13.4 Z" fill="#d8a818" stroke="#a87808" stroke-width="0.5"/>
<circle cx="323.9" cy="8.6" r="5.4" fill="url(#lens)" stroke="#3f82cc" stroke-width="1.3"/>
<rect x="320.7" y="7.8" width="6.4" height="1.7" fill="#3a7ab8"/>
<rect x="323.04999999999995" y="5.4" width="1.7" height="6.4" fill="#3a7ab8"/>
<path d="M355.6 12.299999999999999 L361.8 17.6 L360.4 19.2 L354.4 13.4 Z" fill="#d8a818" stroke="#a87808" stroke-width="0.5"/>
<circle cx="352" cy="8.6" r="5.4" fill="url(#lens)" stroke="#3f82cc" stroke-width="1.3"/>
<rect x="348.8" y="7.8" width="6.4" height="1.7" fill="#3a7ab8"/>
<rect x="374" y="3" width="8" height="8" fill="url(#grn)"/>
<path d="M375.2 6 h5.6 v4 h-5.6 Z" fill="#ffffff"/>
<rect x="376" y="7.2" width="4" height="0.9" fill="#7cc060"/>
<rect x="375" y="4" width="1" height="1" fill="#dfe8ff"/>
<rect x="382" y="3" width="8" height="8" fill="url(#bl2)"/>
<path d="M383.2 6 h5.6 v4 h-5.6 Z" fill="#ffffff"/>
<rect x="384" y="7.2" width="4" height="0.9" fill="#7090e8"/>
<rect x="383" y="4" width="1" height="1" fill="#dfe8ff"/>
<rect x="374" y="11" width="8" height="8" fill="url(#bl2)"/>
<path d="M375.2 14 h5.6 v4 h-5.6 Z" fill="#ffffff"/>
<rect x="376" y="15.2" width="4" height="0.9" fill="#7090e8"/>
<rect x="375" y="12" width="1" height="1" fill="#dfe8ff"/>
<rect x="382" y="11" width="8" height="8" fill="url(#grn)"/>
<path d="M383.2 14 h5.6 v4 h-5.6 Z" fill="#ffffff"/>
<rect x="384" y="15.2" width="4" height="0.9" fill="#7cc060"/>
<rect x="383" y="12" width="1" height="1" fill="#dfe8ff"/>
<g fill="#505050" shape-rendering="crispEdges">
<rect x="412" y="6" width="1" height="13"/>
<rect x="410" y="16" width="13" height="1"/>
</g>
<path d="M412.5 4.8 L414.3 7.2 L410.7 7.2 Z" fill="#505050"/>
<path d="M424.2 16.5 L421.8 14.7 L421.8 18.3 Z" fill="#505050"/>
<path d="M417.3 7.3 L420.9 10.5 L417.3 13.7 Z" fill="#60d860" stroke="#10a010" stroke-width="0.9"/>
<g fill="#505050" shape-rendering="crispEdges">
<rect x="440" y="6" width="1" height="13"/>
<rect x="438" y="16" width="13" height="1"/>
</g>
<path d="M440.5 4.8 L442.3 7.2 L438.7 7.2 Z" fill="#505050"/>
<path d="M452.2 16.5 L449.8 14.7 L449.8 18.3 Z" fill="#505050"/>
<rect x="446" y="5" width="1" height="10" fill="#16609a" shape-rendering="crispEdges"/>
<path d="M447.2 10.5 L450 8.2 L449.4 10.5 L450 12.8 Z" fill="#d84a10"/>
<rect x="449" y="10" width="3.2" height="1" fill="#d84a10"/>
<path d="M471.2 3.6 L479.5 3.6 L482.3 6.4 L482.3 16.2 L471.2 16.2 Z" fill="#fcfcfc" stroke="#5c5c5c" stroke-width="1.1"/>
<path d="M479.5 3.6 L479.5 6.4 L482.3 6.4" fill="none" stroke="#5c5c5c" stroke-width="0.9"/>
<path d="M473.2 8 v5 M473.2 10.5 h2" stroke="#505050" stroke-width="0.9" fill="none"/>
<path d="M479.7 9.8 h3.2 v3.7 h3.7 v3.2 h-3.7 v3.8 h-3.2 v-3.8 h-3.7 v-3.2 h3.7 Z" fill="url(#plusg)" stroke="#0c8c0c" stroke-width="0.8"/>
<path d="M492.6 10 L498.20000000000005 10 L495.40000000000003 13 Z" fill="#000" shape-rendering="auto"/>
<circle cx="516.8" cy="10.9" r="7.9" fill="url(#clkr)"/>
<circle cx="516.8" cy="10.9" r="5.7" fill="#f2f6fb" stroke="#bcd4f0" stroke-width="0.6"/>
<path d="M516.9 7.4 V11 H519.8" fill="none" stroke="#3c3c3c" stroke-width="1.1"/>
<g fill="#9aa4b0"><rect x="516.5" y="5.8" width="0.8" height="0.9"/><rect x="516.5" y="15" width="0.8" height="0.9"/><rect x="511.8" y="10.5" width="0.9" height="0.8"/><rect x="521" y="10.5" width="0.9" height="0.8"/></g>
<path d="M531.6 10 L537.2 10 L534.4 13 Z" fill="#000" shape-rendering="auto"/>
<rect x="548.6" y="4.3" width="15" height="13.3" fill="#fdfdff" stroke="#3a74c4" stroke-width="0.9"/>
<rect x="548.6" y="4.3" width="15" height="2.3" fill="url(#tplt)"/>
<rect x="549" y="11.6" width="14.2" height="0.9" fill="#4a8ad8"/>
<path d="M550.2 10 L552 9.9 L553.6 8.8 L555.4 8.8 L556.8 9.6 L559 9.5 L560.4 8.6 L562 8.5" fill="none" stroke="#a82410" stroke-width="1.1"/>
<path d="M551 15.4 L553 14.8 L554.6 15.6 L556.6 14.4 L558.6 13.6 L560.4 14.8 L561.8 15.6" fill="none" stroke="#128a12" stroke-width="1.1"/>
<path d="M570.4 10 L576.0 10 L573.1999999999999 13 Z" fill="#000" shape-rendering="auto"/>
<path d="M599.8 3.8 L599.8 15.4 L602.5 12.8 L604.9 18.2 L606.8 17.4 L604.5 12.2 L608.4 12.2 Z" fill="#4a4a4a"/>
<g fill="#505050" shape-rendering="crispEdges"><rect x="632" y="4" width="1" height="6"/><rect x="632" y="13" width="1" height="6"/><rect x="625" y="11" width="6" height="1"/><rect x="634" y="11" width="6" height="1"/></g>
<g fill="#505050" shape-rendering="crispEdges"><rect x="666" y="5" width="1" height="13"/><rect x="689" y="11" width="12" height="1"/></g>
<path d="M717 17.6 L729 5.8" stroke="#505050" stroke-width="0.95" fill="none"/>
<g stroke="#505050" stroke-width="1" fill="none">
<path d="M743 12.4 L750.7 5.2 M748.1 17.6 L757 9.2"/>
<path d="M746.6 9.6 L746 16.6 M749.4 7.4 L748.8 15.4 M752 6.6 L751.4 13.6 M754.6 3.4 L754.2 11.2" stroke-width="1.15"/>
</g>
<text x="753.7" y="19.8" font-size="6.4" font-weight="bold" fill="#404040">E</text>
<g stroke="#606060" stroke-width="1" stroke-dasharray="1 1" shape-rendering="crispEdges">
<line x1="772" y1="4.5" x2="785" y2="4.5"/>
<line x1="772" y1="7.5" x2="785" y2="7.5"/>
<line x1="772" y1="11.5" x2="785" y2="11.5"/>
<line x1="772" y1="15.5" x2="781" y2="15.5"/>
</g>
<text x="781.7" y="19.8" font-size="6.4" font-weight="bold" fill="#404040">F</text>
<text x="802.4" y="16" font-size="12.2" fill="#555" stroke="#555" stroke-width="0.45">A</text>
<rect x="829" y="5" width="11.5" height="12.5" fill="none" stroke="#505050" stroke-width="1" stroke-dasharray="1 1" shape-rendering="crispEdges"/>
<text x="831.3" y="16" font-size="11.2" fill="#555" stroke="#555" stroke-width="0.5">T</text>
<path d="M859.4 4.8 L863 8 L859.4 9.7 L855.8 8 Z M866.6 12.9 L870.2 14.7 L866.6 18 L863 14.7 Z" fill="#484848"/>
<path d="M857.8 13.2 L860.3 14.8 L864.8 9.4" fill="none" stroke="#484848" stroke-width="1.3"/>
<path d="M876.7 10 L882.3000000000001 10 L879.5 13 Z" fill="#000" shape-rendering="auto"/>
<circle cx="1619.6" cy="8" r="3.7" fill="#f4f8ff" stroke="#2a64d0" stroke-width="1.3"/>
<path d="M1616.9 10.9 L1612.2 15.6" stroke="#1e50c0" stroke-width="2.4" stroke-linecap="round"/>
<path d="M1637 13.5 a6.2 4.8 0 1 1 4.8 4.4 l-2.6 1.6 l0.6 -2.4 a6 4.6 0 0 1 -2.8 -3.6 Z" fill="#e4e4e4" stroke="#bcbcbc" stroke-width="0.7"/>
<circle cx="1650.4" cy="8.4" r="8.2" fill="url(#redb)"/>
<text x="1647.3" y="12.8" font-size="12.5" fill="#ffffff">1</text>
</svg></body></html>
